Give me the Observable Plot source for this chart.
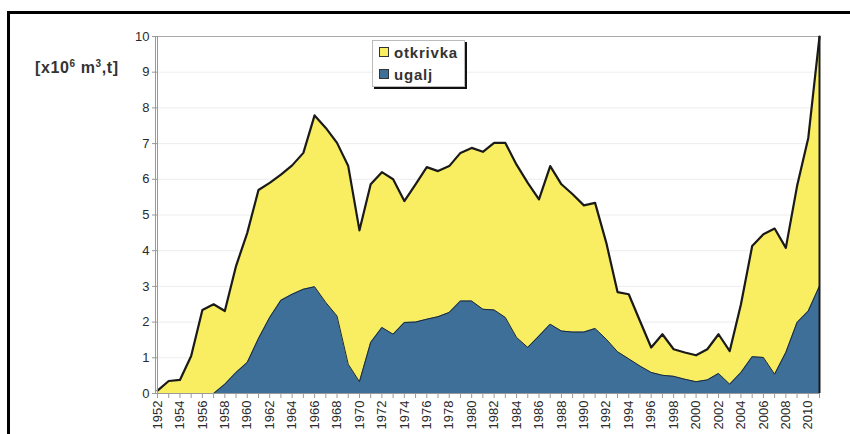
<!DOCTYPE html>
<html>
<head>
<meta charset="utf-8">
<script src="https://cdn.jsdelivr.net/npm/d3@7"></script>
<script src="https://cdn.jsdelivr.net/npm/@observablehq/plot@0.6"></script>
<style>
  body { margin: 0; background: #fff; }
  #wrap { position: relative; width: 850px; height: 434px; overflow: hidden; font-family: "Liberation Sans", Arial, sans-serif; background: #fff; }
  #frame { position: absolute; left: 7px; top: 11px; width: 900px; height: 500px; border-top: 3px solid #000; border-left: 3px solid #000; }
  #chart { position: absolute; left: 0; top: 0; }
  #ylabel { position: absolute; left: 35px; top: 58px; font-size: 16px; font-weight: bold; color: #333; white-space: nowrap; letter-spacing: 0.6px; }
  #ylabel sup { font-size: 10px; }
  #legend { position: absolute; left: 372px; top: 40px; width: 91px; height: 45px; border: 1px solid #bbb; box-shadow: 2px 2px 0 #111; background: #fff; }
  .item { position: absolute; left: 6px; font-size: 15px; font-weight: bold; color: #333; letter-spacing: 0.8px; white-space: nowrap; }
  .sw { display: inline-block; width: 8px; height: 8px; border: 1px solid #333; margin-right: 5px; vertical-align: 1px; }
</style>
</head>
<body>
<div id="wrap">
  <div id="frame"></div>
  <div id="chart"></div>
  <div id="ylabel">[x10<sup>6</sup> m<sup>3</sup>,t]</div>
  <div id="legend"></div>
</div>
<script>
const years = [1952,1953,1954,1955,1956,1957,1958,1959,1960,1961,1962,1963,1964,1965,1966,1967,1968,1969,1970,1971,
  1972,1973,1974,1975,1976,1977,1978,1979,1980,1981,1982,1983,1984,1985,1986,1987,1988,1989,1990,1991,
  1992,1993,1994,1995,1996,1997,1998,1999,2000,2001,2002,2003,2004,2005,2006,2007,2008,2009,2010,2011];
const otkrivka = [0.08,0.35,0.38,1.05,2.34,2.5,2.31,3.57,4.5,5.7,5.9,6.13,6.39,6.74,7.79,7.44,7.02,6.37,4.57,5.86,
  6.2,6.0,5.39,5.86,6.34,6.23,6.37,6.74,6.88,6.77,7.02,7.02,6.41,5.9,5.44,6.37,5.86,5.58,5.27,5.34,
  4.22,2.84,2.78,2.03,1.29,1.66,1.24,1.15,1.07,1.24,1.66,1.19,2.5,4.13,4.46,4.62,4.08,5.81,7.16,10.0];
const ugalj = [0,0,0,0,0,0,0.26,0.59,0.87,1.54,2.13,2.61,2.78,2.92,2.99,2.55,2.17,0.82,0.33,1.43,
  1.85,1.66,1.99,2.0,2.08,2.15,2.27,2.59,2.59,2.36,2.34,2.13,1.57,1.29,1.61,1.94,1.75,1.72,1.72,1.82,
  1.52,1.17,0.97,0.77,0.59,0.51,0.48,0.40,0.33,0.38,0.56,0.26,0.59,1.03,1.01,0.54,1.15,1.99,2.31,3.01];
const yTicks = [0,1,2,3,4,5,6,7,8,9,10];
const seriesNames = ["otkrivka", "ugalj"];
const seriesColors = ["#f9ee62", "#3e6f98"];

const data = years.map((year, i) => ({year, otkrivka: otkrivka[i], ugalj: ugalj[i]}));
const last = data[data.length - 1];

const chart = Plot.plot({
  width: 850,
  height: 434,
  marginLeft: 157,
  marginRight: 31,
  marginTop: 36,
  marginBottom: 41,
  x: {domain: [1952, 2011]},
  y: {domain: [0, 10]},
  style: {fontFamily: "'Liberation Sans', Arial, sans-serif", fontSize: "12px", color: "#2a2a2a", background: "transparent"},
  marks: [
    Plot.gridY(yTicks.filter(d => d > 0 && d < 10), {stroke: "#ccc", strokeOpacity: 0.35}),
    Plot.ruleY([10], {stroke: "#aaa", strokeWidth: 1}),
    Plot.areaY(data, {x: "year", y: "otkrivka", fill: seriesColors[0]}),
    Plot.areaY(data, {x: "year", y: "ugalj", fill: seriesColors[1]}),
    Plot.lineY(data, {x: "year", y: "ugalj", stroke: "#1c2836", strokeWidth: 1}),
    Plot.lineY(data, {x: "year", y: "otkrivka", stroke: "#1a1a1a", strokeWidth: 2.2}),
    Plot.ruleX([last], {x: "year", y1: 0, y2: "otkrivka", stroke: "#1a1a1a", strokeWidth: 2}),
    Plot.ruleX([1952], {stroke: "#999", strokeWidth: 1, dx: -2}),
    Plot.ruleX([1952], {stroke: "#999", strokeWidth: 1}),
    Plot.ruleY([0], {stroke: "#999", strokeWidth: 1}),
    Plot.axisY({ticks: yTicks, tickSize: 5, tickPadding: 3, label: null, stroke: "#999", fontSize: 13}),
    Plot.axisX({ticks: years, tickFormat: d => d % 2 === 0 ? String(d) : "", tickRotate: -90, tickSize: 5, tickPadding: 2, label: null, stroke: "#999", fontSize: 13})
  ]
});
document.getElementById("chart").appendChild(chart);

const legend = document.getElementById("legend");
seriesNames.forEach((name, i) => {
  const item = document.createElement("div");
  item.className = "item";
  item.style.top = (i === 0 ? 3 : 25) + "px";
  item.innerHTML = `<span class="sw" style="background:${seriesColors[i]}"></span>${name}`;
  legend.appendChild(item);
});
</script>
</body>
</html>
